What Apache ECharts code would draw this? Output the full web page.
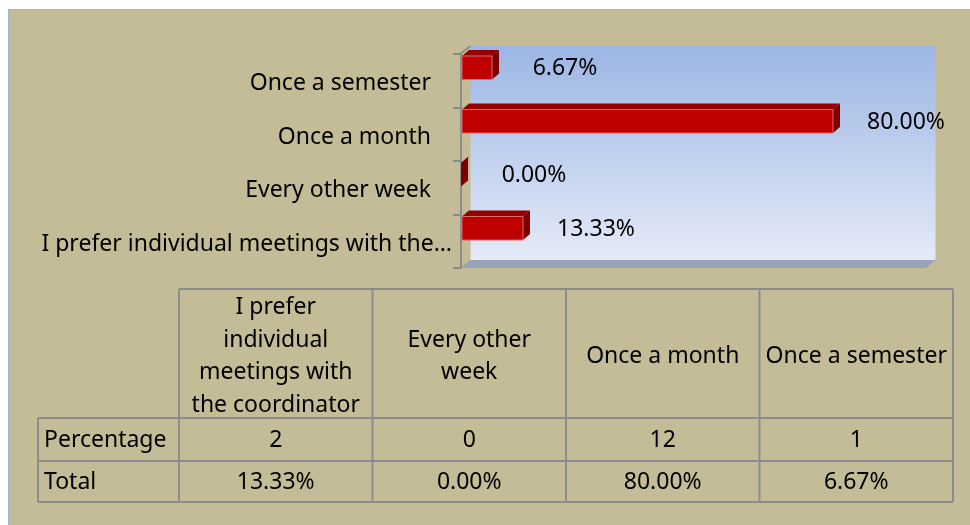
<!DOCTYPE html>
<html>
<head>
<meta charset="utf-8">
<script src="https://cdn.jsdelivr.net/npm/echarts@6/dist/echarts.min.js"></script>
<style>
  html, body { margin: 0; padding: 0; background: #fff; }
  #chart { width: 970px; height: 525px; }
</style>
</head>
<body>
<div id="chart"></div>
<script>
// survey: how often should group meetings be held
const categories = ['I prefer individual meetings with the coordinator', 'Every other week', 'Once a month', 'Once a semester'];
const counts = [2, 0, 12, 1];
const percents = [13.33, 0.00, 80.00, 6.67];
const headerLabels = ['I prefer\nindividual\nmeetings with\nthe coordinator', 'Every other\nweek', 'Once a month', 'Once a semester'];
const rowLabels = ['Percentage', 'Total'];

const FONT = '"Noto Sans", "Open Sans", sans-serif';
const FS = 23;
const TAN = '#c4bc96';
const LINE = '#8c8c8c';

const chart = echarts.init(document.getElementById('chart'));

// 3D depth of the plot box
const DX = 9.5, DY = 8;

function renderFrame(params, api) {
    const cs = params.coordSys;
    const bottom = cs.y + cs.height;
    return {
        type: 'group',
        children: [
            {
                type: 'rect',
                shape: { x: cs.x + DX, y: cs.y - DY, width: cs.width, height: cs.height },
                style: {
                    fill: new echarts.graphic.LinearGradient(0, 0, 0, 1, [
                        { offset: 0, color: '#9cb6e4' },
                        { offset: 1, color: '#e4eaf7' }
                    ])
                }
            },
            {
                type: 'polygon',
                shape: { points: [[cs.x - 1, bottom], [cs.x + cs.width, bottom], [cs.x + cs.width + DX, bottom - DY], [cs.x + DX, bottom - DY]] },
                style: { fill: '#98a3b9' }
            },
            {
                type: 'line',
                shape: { x1: cs.x - 1, y1: cs.y, x2: cs.x + DX, y2: cs.y - DY },
                style: { stroke: LINE, lineWidth: 2 }
            }
        ]
    };
}

function renderBar(params, api) {
    const idx = api.value(1);
    const v = api.value(0);
    const start = api.coord([0, idx]);
    const end = api.coord([v, idx]);
    const band = api.size([0, 1])[1];
    const top = start[1] - band / 2 + 2;
    const h = band * 0.44;
    const x0 = start[0] + 1, x1 = end[0];
    const dx = 7, dy = 6;
    return {
        type: 'group',
        children: [
            {
                type: 'polygon',
                shape: { points: [[x0, top], [x1, top], [x1 + dx, top - dy], [x0 + dx, top - dy]] },
                style: { fill: '#930000' }
            },
            {
                type: 'polygon',
                shape: { points: [[x1, top], [x1 + dx, top - dy], [x1 + dx, top + h - dy], [x1, top + h]] },
                style: { fill: '#7c0000' }
            },
            {
                type: 'rect',
                shape: { x: x0, y: top, width: Math.max(x1 - x0, 0), height: h },
                style: { fill: '#c00000', stroke: '#d86a6a', lineWidth: x1 - x0 > 1 ? 1 : 0 }
            },
            {
                type: 'text',
                style: {
                    text: percents[params.dataIndex].toFixed(2) + '%',
                    x: x1 + 73, y: top + h / 2 + 1,
                    align: 'center', verticalAlign: 'middle',
                    fill: '#000', fontSize: FS, fontFamily: FONT
                }
            }
        ]
    };
}

// data table under the chart
const tbl = { left: 179, colW: 193.5, top: 289, headH: 129, rowH: [43, 41], labelLeft: 38 };
const graphic = [
    { type: 'rect', shape: { x: 8, y: 9, width: 962, height: 516 }, style: { fill: '#9db1dd' }, z: -10 },
    { type: 'rect', shape: { x: 9, y: 10, width: 961, height: 515 }, style: { fill: TAN }, z: -9 }
];
const tblRight = tbl.left + tbl.colW * categories.length;
const rowTops = [tbl.top + tbl.headH, tbl.top + tbl.headH + tbl.rowH[0]];
const tblBottom = rowTops[1] + tbl.rowH[1];
const lineStyle = { stroke: LINE, lineWidth: 2 };
// horizontal lines
graphic.push({ type: 'line', shape: { x1: tbl.left, y1: tbl.top, x2: tblRight, y2: tbl.top }, style: lineStyle });
[rowTops[0], rowTops[1], tblBottom].forEach(y => {
    graphic.push({ type: 'line', shape: { x1: tbl.labelLeft, y1: y, x2: tblRight, y2: y }, style: lineStyle });
});
// vertical lines
graphic.push({ type: 'line', shape: { x1: tbl.labelLeft, y1: rowTops[0], x2: tbl.labelLeft, y2: tblBottom }, style: lineStyle });
for (let i = 0; i <= categories.length; i++) {
    const x = tbl.left + tbl.colW * i;
    graphic.push({ type: 'line', shape: { x1: x, y1: tbl.top, x2: x, y2: tblBottom }, style: lineStyle });
}
const textStyle = { fill: '#000', fontSize: FS, fontFamily: FONT };
headerLabels.forEach((t, i) => {
    graphic.push({
        type: 'text',
        style: Object.assign({ text: t, x: tbl.left + tbl.colW * (i + 0.5), y: tbl.top + tbl.headH / 2 + 3,
            align: 'center', verticalAlign: 'middle', lineHeight: 32.5 }, textStyle)
    });
});
const rows = [counts.map(String), percents.map(p => p.toFixed(2) + '%')];
rows.forEach((vals, r) => {
    const cy = rowTops[r] + tbl.rowH[r] / 2 + 1;
    graphic.push({ type: 'text', style: Object.assign({ text: rowLabels[r], x: tbl.labelLeft + 6, y: cy, align: 'left', verticalAlign: 'middle' }, textStyle) });
    vals.forEach((t, i) => {
        graphic.push({ type: 'text', style: Object.assign({ text: t, x: tbl.left + tbl.colW * (i + 0.5), y: cy, align: 'center', verticalAlign: 'middle' }, textStyle) });
    });
});

chart.setOption({
    backgroundColor: '#fff',
    animation: false,
    grid: { left: 461, right: 44, top: 54, bottom: 257 },
    xAxis: { type: 'value', min: 0, max: 100, show: false },
    yAxis: {
        type: 'category',
        data: categories,
        axisLine: { show: true, lineStyle: { color: LINE, width: 2 } },
        axisTick: { show: true, length: 8, lineStyle: { color: LINE, width: 2 } },
        axisLabel: {
            margin: 9,
            color: '#000',
            fontSize: FS,
            fontFamily: FONT,
            formatter: function (value) {
                const words = value.split(' ');
                if (words.length > 6) return '{l|' + words.slice(0, 6).join(' ') + '…}';
                return '{s|' + value + '}';
            },
            rich: {
                s: { fontSize: FS, fontFamily: FONT, color: '#000', padding: [6, 21, 0, 0] },
                l: { fontSize: FS, fontFamily: FONT, color: '#000', padding: [6, 0, 0, 0] }
            }
        },
        splitLine: { show: false }
    },
    graphic: graphic,
    series: [
        {
            type: 'custom',
            silent: true,
            z: 1,
            encode: { x: 0, y: 1 },
            data: [[0, 0]],
            renderItem: renderFrame
        },
        {
            type: 'custom',
            silent: true,
            clip: false,
            z: 3,
            encode: { x: 0, y: 1 },
            data: percents.map((p, i) => [p, i]),
            renderItem: renderBar
        }
    ]
});
</script>
</body>
</html>
